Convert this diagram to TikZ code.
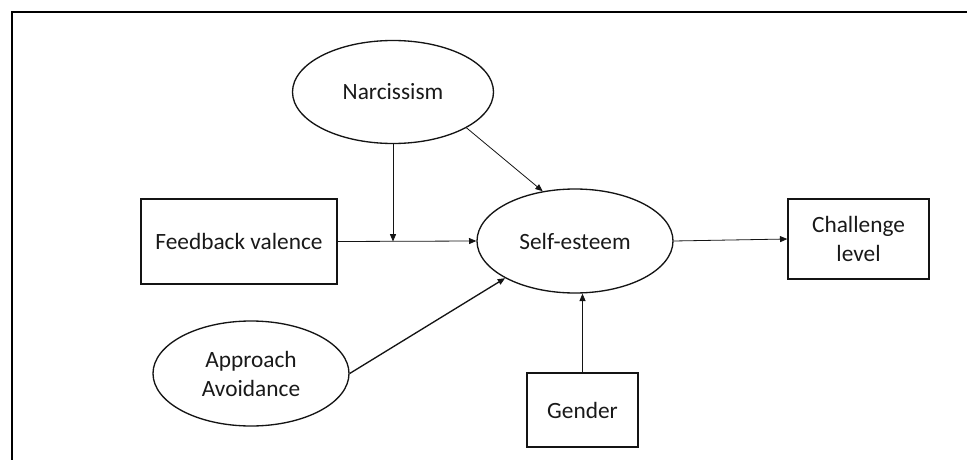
\documentclass[tikz,border=0pt]{standalone}
\usepackage{fontspec}
\setmainfont{Carlito}
\usepackage{tikz}
\usetikzlibrary{arrows.meta,shapes.geometric}
\definecolor{mdedge}{RGB}{20,20,20}
\definecolor{mdtxt}{RGB}{25,25,25}
\tikzset{
  mdbox/.style={
    draw=mdedge, line width=1pt, align=center, inner sep=0pt,
    text=mdtxt, font=\fontsize{17.5}{21.75}\selectfont
  },
  latent/.style={mdbox, ellipse},
  manifest/.style={mdbox, rectangle},
  arr/.style={-{Triangle[length=5.5pt,width=4.5pt]}, draw=mdedge, line width=0.6pt},
  thkarr/.style={arr, line width=1pt},
  frame/.style={draw=black, line width=1.4pt}
}
\begin{document}
\begin{tikzpicture}[x=0.75pt,y=-0.75pt]
  \useasboundingbox (0,0) rectangle (967,460);
  \draw[frame] (12,460) -- (12,12) -- (967,12);
  \node[latent, minimum width=150.75pt, minimum height=77.25pt] (narc) at (393,92) {Narcissism};
  \node[manifest, minimum width=147pt, minimum height=63.75pt] (fb) at (239,241.5) {Feedback valence};
  \node[latent, minimum width=147pt, minimum height=78pt] (se) at (575,241) {Self-esteem};
  \node[manifest, minimum width=105.75pt, minimum height=60pt] (cl) at (858.5,239) {Challenge\\level};
  \node[latent, minimum width=147pt, minimum height=78.75pt] (aa) at (251,373.5) {Approach\\Avoidance};
  \node[manifest, minimum width=83.25pt, minimum height=55.5pt] (gd) at (582.5,410) {Gender};
  \coordinate (mod) at (narc.south |- fb.east);
  \draw[arr] (fb.east) -- (se.west);
  \draw[arr] (narc.south) -- (mod);
  \draw[arr] (narc.-26) -- (se.123);
  \draw[thkarr] (aa.east) -- (se.208);
  \draw[arr] (gd.north) -- (se.south -| gd.north);
  \draw[arr] (se.east) -- (cl.west);
\end{tikzpicture}
\end{document}
